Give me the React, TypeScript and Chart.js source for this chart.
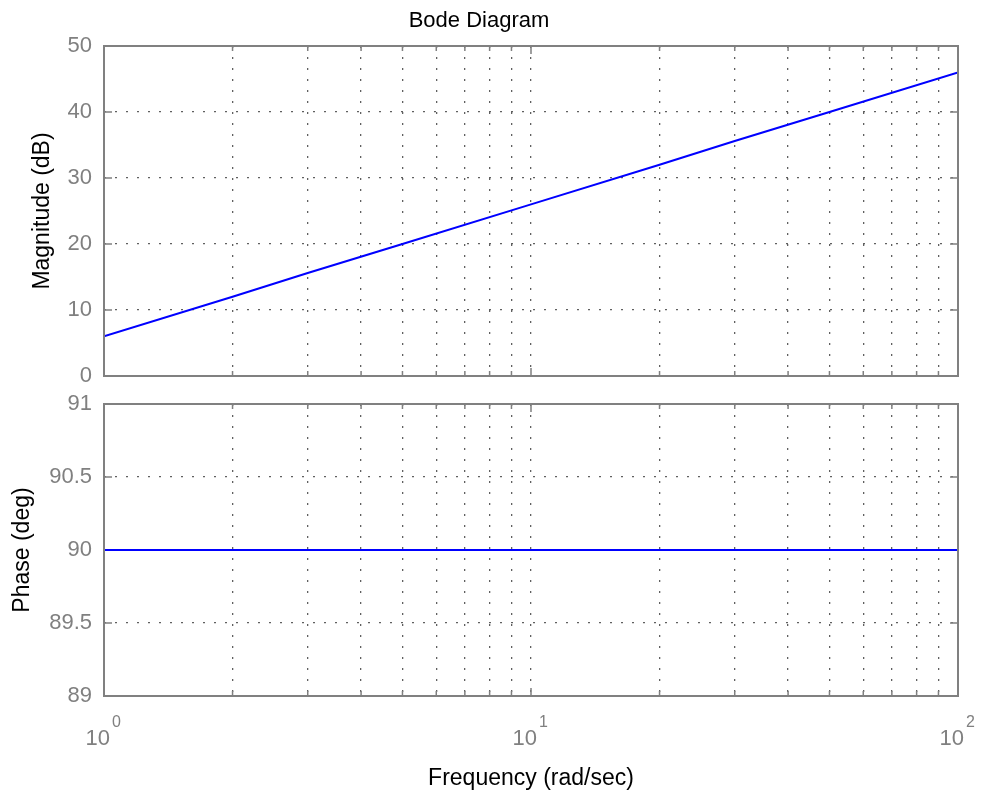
import React, { useEffect, useRef } from 'react';
import { Chart, registerables } from 'chart.js';

Chart.register(...registerables);

// ---- data ----
const frequencies = [1, 2, 3, 5, 10, 20, 30, 50, 100];
const magnitudeDb = [6.0, 12.0, 15.6, 20.0, 26.0, 32.0, 35.6, 40.0, 46.0];
const phaseDeg = [90, 90, 90, 90, 90, 90, 90, 90, 90];
const magTicks = [0, 10, 20, 30, 40, 50];
const phaseTicks = [89, 89.5, 90, 90.5, 91];
const freqGrid = [1, 2, 3, 4, 5, 6, 7, 8, 9, 10, 20, 30, 40, 50, 60, 70, 80, 90, 100];
const decadeValues = [1, 10, 100];
const decadeExponents = ['0', '1', '2'];

const GRAY = '#808080';
const GRID = '#606060';
const SANS = '"Liberation Sans", Arial, sans-serif';

const framePlugin = {
  id: 'matlabFrame',
  beforeDatasetsDraw(chart: any) {
    const { ctx, chartArea: a } = chart;
    const xs = chart.scales.x;
    const ys = chart.scales.y;
    ctx.save();
    ctx.setLineDash([]);
    ctx.strokeStyle = GRAY;
    ctx.lineWidth = 1.5;
    ctx.beginPath();
    ys.ticks.forEach((t: any) => {
      const y = ys.getPixelForValue(t.value);
      ctx.moveTo(a.left, y);
      ctx.lineTo(a.left + 8, y);
      ctx.moveTo(a.right - 8, y);
      ctx.lineTo(a.right, y);
    });
    xs.ticks.forEach((t: any) => {
      const x = xs.getPixelForValue(t.value);
      const isDecade = decadeValues.indexOf(t.value) >= 0;
      const len = isDecade ? 8 : 5;
      ctx.moveTo(x, a.bottom);
      ctx.lineTo(x, a.bottom - len);
      ctx.moveTo(x, a.top);
      ctx.lineTo(x, a.top + len);
    });
    ctx.stroke();
    ctx.restore();
  },
  afterDatasetsDraw(chart: any, _args: any, opts: any) {
    const { ctx, chartArea: a } = chart;
    const xs = chart.scales.x;
    ctx.save();
    ctx.setLineDash([]);
    ctx.strokeStyle = GRAY;
    ctx.lineWidth = 2;
    ctx.strokeRect(a.left, a.top, a.right - a.left, a.bottom - a.top);
    if (opts && opts.decadeLabels) {
      ctx.fillStyle = GRAY;
      ctx.textBaseline = 'alphabetic';
      decadeValues.forEach((v, i) => {
        const x = xs.getPixelForValue(v);
        ctx.font = `22px ${SANS}`;
        ctx.textAlign = 'right';
        ctx.fillText('10', x + 6, a.bottom + 49);
        ctx.font = `16px ${SANS}`;
        ctx.textAlign = 'left';
        ctx.fillText(decadeExponents[i], x + 8, a.bottom + 31);
      });
    }
    ctx.restore();
  },
};

function xScale(height: number, title?: string) {
  return {
    type: 'logarithmic' as const,
    min: 1,
    max: 100,
    afterBuildTicks: (s: any) => {
      s.ticks = freqGrid.map((v) => ({ value: v }));
    },
    ticks: { display: false },
    grid: { color: GRID, lineWidth: 1.3, drawTicks: false },
    border: { display: false, dash: [2, 9] },
    title: title
      ? {
          display: true,
          text: title,
          color: '#000',
          font: { family: SANS, size: 23, weight: 'normal' as const },
          padding: { top: 0, bottom: 4 },
        }
      : { display: false },
    afterFit: (s: any) => {
      s.height = height;
    },
  };
}

function yScale(min: number, max: number, ticks: number[], title: string, titlePad: number) {
  return {
    type: 'linear' as const,
    min,
    max,
    afterBuildTicks: (s: any) => {
      s.ticks = ticks.map((v) => ({ value: v }));
    },
    ticks: {
      color: GRAY,
      font: { family: SANS, size: 22 },
      padding: 12,
      callback: (v: any) => String(v),
    },
    grid: { color: GRID, lineWidth: 1.3, drawTicks: false },
    border: { display: false, dash: [2, 9] },
    title: {
      display: true,
      text: title,
      color: '#000',
      font: { family: SANS, size: 23, weight: 'normal' as const },
      padding: { top: titlePad, bottom: 0 },
    },
    afterFit: (s: any) => {
      s.width = 104;
    },
  };
}

export default function App() {
  const topRef = useRef<HTMLCanvasElement>(null);
  const botRef = useRef<HTMLCanvasElement>(null);

  useEffect(() => {
    const top = new Chart(topRef.current!, {
      type: 'line',
      data: {
        datasets: [
          {
            data: frequencies.map((f, i) => ({ x: f, y: magnitudeDb[i] })),
            borderColor: '#0000ff',
            borderWidth: 2,
            pointRadius: 0,
            tension: 0,
          },
        ],
      },
      options: {
        responsive: false,
        animation: false,
        devicePixelRatio: 1,
        layout: { padding: { left: 0, right: 26, top: 0, bottom: 0 } },
        plugins: {
          legend: { display: false },
          tooltip: { enabled: false },
          title: {
            display: true,
            text: 'Bode Diagram',
            color: '#000',
            font: { family: SANS, size: 22, weight: 'normal' },
            padding: { top: 8, bottom: 11.6 },
          },
          matlabFrame: { decadeLabels: false },
        } as any,
        scales: {
          x: xScale(30),
          y: yScale(0, 50, magTicks, 'Magnitude (dB)', 29),
        } as any,
      },
      plugins: [framePlugin],
    });

    const bot = new Chart(botRef.current!, {
      type: 'line',
      data: {
        datasets: [
          {
            data: frequencies.map((f, i) => ({ x: f, y: phaseDeg[i] })),
            borderColor: '#0000ff',
            borderWidth: 2,
            pointRadius: 0,
            tension: 0,
          },
        ],
      },
      options: {
        responsive: false,
        animation: false,
        devicePixelRatio: 1,
        layout: { padding: { left: 0, right: 26, top: 30, bottom: 0 } },
        plugins: {
          legend: { display: false },
          tooltip: { enabled: false },
          matlabFrame: { decadeLabels: true },
        } as any,
        scales: {
          x: xScale(100, 'Frequency (rad/sec)'),
          y: yScale(89, 91, phaseTicks, 'Phase (deg)', 9),
        } as any,
      },
      plugins: [framePlugin],
    });

    return () => {
      top.destroy();
      bot.destroy();
    };
  }, []);

  return (
    <div style={{ position: 'fixed', left: 0, top: 0, width: 984, height: 796, background: '#fff' }}>
      <canvas ref={topRef} width={984} height={406} style={{ position: 'absolute', left: 0, top: 0 }} />
      <canvas ref={botRef} width={984} height={422} style={{ position: 'absolute', left: 0, top: 374 }} />
    </div>
  );
}
